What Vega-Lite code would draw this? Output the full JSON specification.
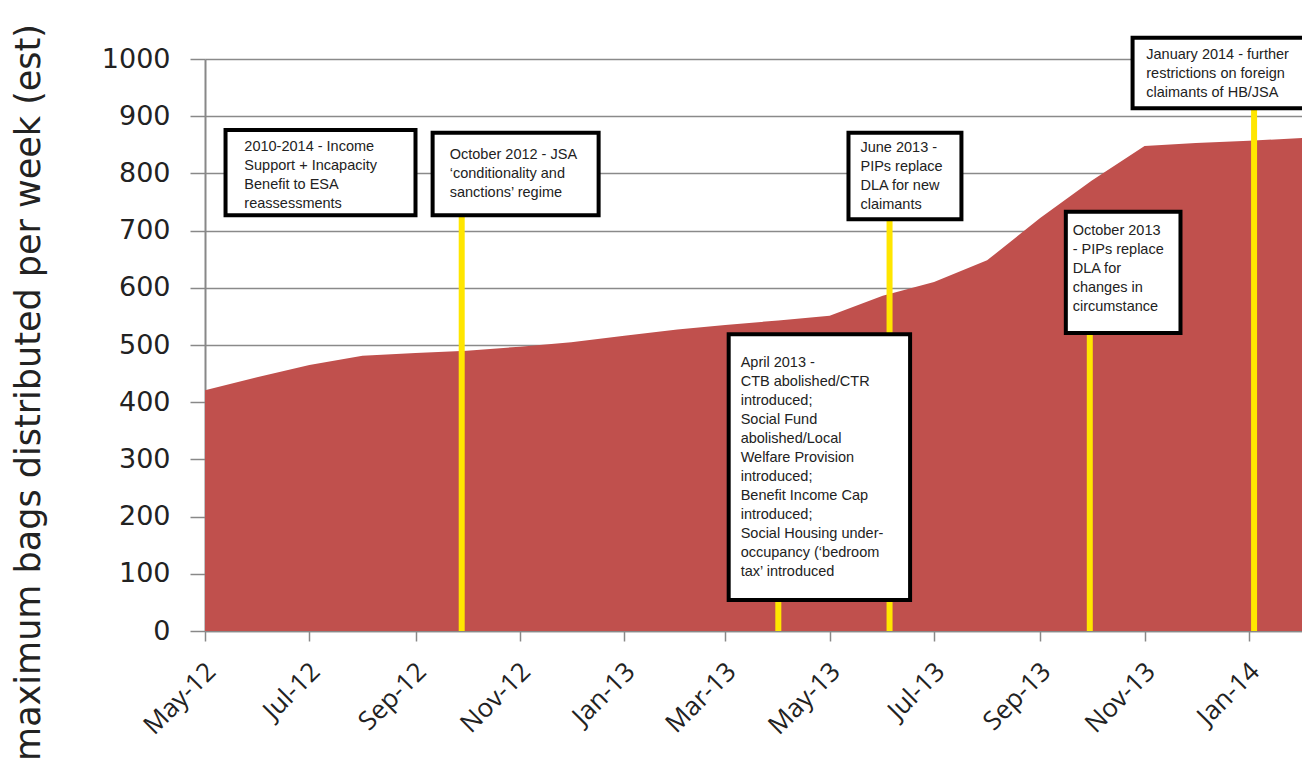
{
  "$schema": "https://vega.github.io/schema/vega-lite/v6.json",
  "width": 1097,
  "height": 572,
  "autosize": {"type": "none"},
  "padding": {"left": 205, "top": 59, "right": 0, "bottom": 140},
  "background": "white",
  "config": {"view": {"stroke": null}},
  "datasets": {
    "series": [
      {"date": "2012-05-01", "bags": 421},
      {"date": "2012-06-01", "bags": 444},
      {"date": "2012-07-01", "bags": 465},
      {"date": "2012-08-01", "bags": 481},
      {"date": "2012-09-01", "bags": 486},
      {"date": "2012-10-01", "bags": 490},
      {"date": "2012-11-01", "bags": 497},
      {"date": "2012-12-01", "bags": 505},
      {"date": "2013-01-01", "bags": 516},
      {"date": "2013-02-01", "bags": 527},
      {"date": "2013-03-01", "bags": 535},
      {"date": "2013-04-01", "bags": 543},
      {"date": "2013-05-01", "bags": 551},
      {"date": "2013-06-01", "bags": 586},
      {"date": "2013-07-01", "bags": 610},
      {"date": "2013-08-01", "bags": 648},
      {"date": "2013-09-01", "bags": 722},
      {"date": "2013-10-01", "bags": 787},
      {"date": "2013-11-01", "bags": 848},
      {"date": "2013-12-01", "bags": 853},
      {"date": "2014-01-01", "bags": 857},
      {"date": "2014-02-01", "bags": 862}
    ],
    "events": [
      {"date": "2012-09-28", "top": 800},
      {"date": "2013-04-01", "top": 300},
      {"date": "2013-06-05", "top": 800},
      {"date": "2013-09-30", "top": 600},
      {"date": "2014-01-04", "top": 950}
    ],
    "boxes": [
      {"x1": "2012-05-13", "x2": "2012-09-01", "ytop": 876, "ybot": 727, "tx": "2012-05-24", "ty": 859, "label": "2010-2014 - Income\nSupport + Incapacity\nBenefit to ESA\nreassessments"},
      {"x1": "2012-09-11", "x2": "2012-12-17", "ytop": 871, "ybot": 727, "tx": "2012-09-21", "ty": 845, "label": "October 2012 - JSA\n‘conditionality and\nsanctions’ regime"},
      {"x1": "2013-03-03", "x2": "2013-06-17", "ytop": 519, "ybot": 54, "tx": "2013-03-10", "ty": 480, "label": "April 2013 -\nCTB abolished/CTR\nintroduced;\nSocial Fund\nabolished/Local\nWelfare Provision\nintroduced;\nBenefit Income Cap\nintroduced;\nSocial Housing under-\noccupancy (‘bedroom\ntax’ introduced"},
      {"x1": "2013-05-12", "x2": "2013-07-17", "ytop": 871, "ybot": 720, "tx": "2013-05-19", "ty": 856, "label": "June 2013 -\nPIPs replace\nDLA for new\nclaimants"},
      {"x1": "2013-09-16", "x2": "2013-11-22", "ytop": 733, "ybot": 521, "tx": "2013-09-20", "ty": 711, "label": "October 2013\n- PIPs replace\nDLA for\nchanges in\ncircumstance"},
      {"x1": "2013-10-25", "x2": "2014-02-10", "ytop": 1037, "ybot": 914, "tx": "2013-11-02", "ty": 1020, "label": "January 2014 - further\nrestrictions on foreign\nclaimants of HB/JSA"}
    ]
  },
  "layer": [
    {
      "data": {"name": "series"},
      "mark": {"type": "area", "color": "#c0504d", "opacity": 1},
      "encoding": {
        "x": {
          "field": "date",
          "type": "temporal",
          "scale": {"type": "utc", "domain": [{"year": 2012, "month": 5, "date": 1, "utc": true}, {"year": 2014, "month": 2, "date": 1, "utc": true}]},
          "axis": {
            "title": null,
            "grid": false,
            "format": "%b-%y",
            "tickCount": {"interval": "month", "step": 2},
            "labelAngle": -45,
            "labelAlign": "right",
            "labelBaseline": "middle",
            "labelFont": "Open Sans",
            "labelFontSize": 26,
            "labelColor": "#222222",
            "labelPadding": 26,
            "labelOffset": 6,
            "labelOverlap": false,
            "labelFlush": false,
            "domainColor": "#888888",
            "domainWidth": 1.5,
            "tickColor": "#888888",
            "tickWidth": 1.5,
            "tickSize": 10
          }
        },
        "y": {
          "field": "bags",
          "type": "quantitative",
          "scale": {"domain": [0, 1000], "nice": false},
          "axis": {
            "title": "maximum bags distributed per week (est)",
            "titleFont": "DejaVu Sans",
            "titleFontSize": 35,
            "titleFontWeight": "normal",
            "titleColor": "#222222",
            "titleAngle": -90,
            "titleX": -177,
            "titleY": 333,
            "titleAlign": "center",
            "titleBaseline": "middle",
            "format": "d",
            "values": [0, 100, 200, 300, 400, 500, 600, 700, 800, 900, 1000],
            "grid": true,
            "gridColor": "#8a8a8a",
            "gridWidth": 1.5,
            "domainColor": "#888888",
            "domainWidth": 2,
            "tickColor": "#888888",
            "tickWidth": 1.5,
            "tickSize": 15,
            "labelFont": "DejaVu Sans",
            "labelFontSize": 27,
            "labelColor": "#222222",
            "labelPadding": 20
          }
        }
      }
    },
    {
      "data": {"name": "events"},
      "mark": {"type": "rule", "color": "#ffe600", "strokeWidth": 6},
      "encoding": {
        "x": {"field": "date", "type": "temporal"},
        "y": {"field": "top", "type": "quantitative"},
        "y2": {"datum": 0}
      }
    },
    {
      "data": {"name": "boxes"},
      "mark": {"type": "rect", "fill": "white", "stroke": "black", "strokeWidth": 4},
      "encoding": {
        "x": {"field": "x1", "type": "temporal"},
        "x2": {"field": "x2"},
        "y": {"field": "ytop", "type": "quantitative"},
        "y2": {"field": "ybot"}
      }
    },
    {
      "data": {"name": "boxes"},
      "mark": {"type": "text", "align": "left", "baseline": "top", "font": "Liberation Sans", "fontSize": 14.5, "lineHeight": 19, "color": "#222222", "lineBreak": "\n"},
      "encoding": {
        "x": {"field": "tx", "type": "temporal"},
        "y": {"field": "ty", "type": "quantitative"},
        "text": {"field": "label"}
      }
    }
  ]
}
